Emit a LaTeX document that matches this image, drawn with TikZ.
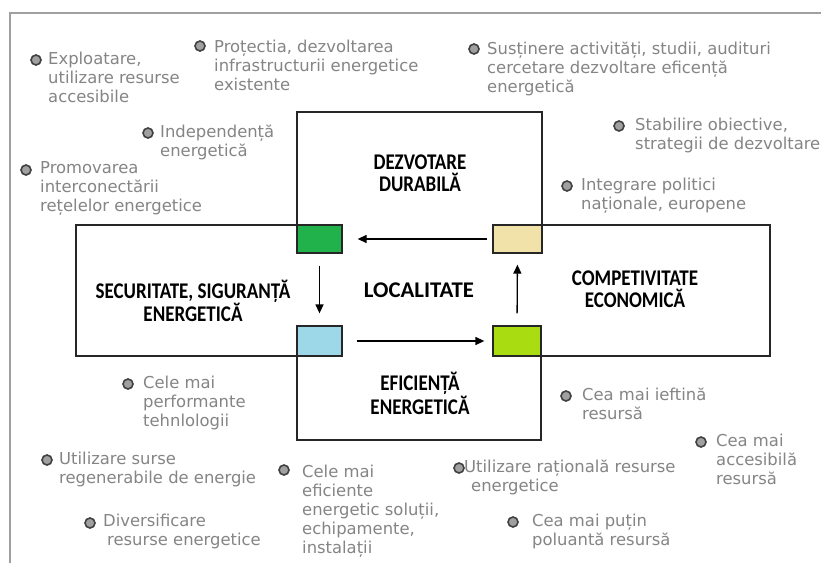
\documentclass[tikz,border=0pt]{standalone}
\usepackage{fontspec}
\setmainfont{DejaVu Sans}
\newfontfamily\labfont{Carlito}
\usetikzlibrary{arrows.meta}
\definecolor{gtxt}{HTML}{858585}
\definecolor{dotfill}{HTML}{A0A0A0}
\definecolor{dotline}{HTML}{404040}
\definecolor{framec}{HTML}{A0A0A0}
\definecolor{cgreen}{HTML}{22B24C}
\definecolor{ctan}{HTML}{F0E2A8}
\definecolor{cblue}{HTML}{9DD8E8}
\definecolor{clime}{HTML}{AADD11}
\newcommand\tallt[1]{\scalebox{1}[1.18]{#1}}
\begin{document}
\begin{tikzpicture}[x=1pt,y=-1pt,
  gtext/.style={anchor=north west, align=left, inner sep=0pt, text=gtxt, font=\fontsize{16.4}{19}\selectfont, execute at begin node=\strut},
  dot/.style={circle, draw=dotline, fill=dotfill, line width=1.6pt, minimum size=10pt, inner sep=0pt},
  lab/.style={align=center, inner sep=0pt, font=\labfont\bfseries\fontsize{19}{22}\selectfont},
  sq/.style={draw=black!85, line width=1.3pt, inner sep=0pt},
  arr/.style={-{Triangle[length=9pt,width=8pt]}, line width=1.3pt}]
\useasboundingbox (0,0) rectangle (821,563);
\fill[white] (0,0) rectangle (821,563);
% outer frame
\draw[framec, line width=1.5pt] (10,563) -- (10,13) -- (821,13);
% cross outline
\draw[black!85, line width=1.3pt] (297,112) -- (542,112) -- (542,225) -- (770,225) -- (770,356)
  -- (541,356) -- (541,440) -- (297,440) -- (297,356) -- (76,356) -- (76,225) -- (297,225) -- cycle;
% squares
\node[sq, fill=cgreen, minimum width=45pt, minimum height=28pt] (green) at (319.5,239) {};
\node[sq, fill=ctan, minimum width=49pt, minimum height=28pt] (tan) at (517.5,239) {};
\node[sq, fill=cblue, minimum width=45pt, minimum height=30pt] (blue) at (319.5,341) {};
\node[sq, fill=clime, minimum width=48pt, minimum height=30pt] (lime) at (517,341) {};
% arrows
\draw[arr, shorten <=5pt, shorten >=15pt] (tan.west) -- (green.east);
\draw[arr, shorten <=12pt, shorten >=12pt] (green.south) -- (blue.north);
\draw[arr, shorten <=14pt, shorten >=8pt] (blue.east) -- (lime.west);
\draw[arr, shorten <=12pt, shorten >=11pt] (lime.north) -- (tan.south);
% bold labels
\node[lab] (dd) at (420,173.5) {\tallt{DEZVOTARE}\\\tallt{DURABILĂ}};
\node[lab] (ss) at (193,301) {\tallt{SECURITATE, SIGURANȚĂ}\\\tallt{ENERGETICĂ}};
\node[lab] (loc) at (419,290) {\scalebox{1.2}[1.18]{LOCALITATE}};
\node[lab] (ce) at (635,289) {\tallt{COMPETIVITATE}\\\tallt{ECONOMICĂ}};
\node[lab] (ee) at (420,393.5) {\tallt{EFICIENȚĂ}\\\tallt{ENERGETICĂ}};
% bullets and gray texts
\node[dot] (b1) at (36,60) {};
\node[gtext] (t1) at (48,51.7) {Exploatare,\\utilizare resurse\\accesibile};
\node[dot] (b2) at (200,46) {};
\node[gtext] (t2) at (214,39.7) {Proțectia, dezvoltarea\\infrastructurii energetice\\existente};
\node[dot] (b3) at (148,133) {};
\node[gtext] (t3) at (160,124.7) {Independență\\energetică};
\node[dot] (b4) at (26,170) {};
\node[gtext] (t4) at (40,161.7) {Promovarea\\interconectării\\rețelelor energetice};
\node[dot] (b5) at (474,49) {};
\node[gtext] (t5) at (487,41.7) {Susținere activități, studii, audituri\\cercetare dezvoltare eficență\\energetică};
\node[dot] (b6) at (619,126) {};
\node[gtext] (t6) at (635,117.7) {Stabilire obiective,\\strategii de dezvoltare};
\node[dot] (b7) at (567,186) {};
\node[gtext] (t7) at (581,177.7) {Integrare politici\\naționale, europene};
\node[dot] (b8) at (128,384) {};
\node[gtext] (t8) at (143,375.7) {Cele mai\\performante\\tehnlologii};
\node[dot] (b9) at (47,460) {};
\node[gtext] (t9) at (59,451.7) {Utilizare surse\\regenerabile de energie};
\node[dot] (b10) at (90,523) {};
\node[gtext] (t10) at (103,513.7) {Diversificare\\\hspace*{4pt}resurse energetice};
\node[dot] (b11) at (284,470) {};
\node[gtext] (t11) at (302,464.7) {Cele mai\\eficiente\\energetic soluții,\\echipamente,\\instalații};
\node[dot] (b12) at (566,396) {};
\node[gtext] (t12) at (582,387.7) {Cea mai ieftină\\resursă};
\node[dot] (b13) at (701,442) {};
\node[gtext] (t13) at (716,433.7) {Cea mai\\accesibilă\\resursă};
\node[dot] (b14) at (459,468) {};
\node[gtext] (t14) at (463,459.7) {\hspace*{1pt}Utilizare rațională resurse\\\hspace*{8pt}energetice};
\node[dot] (b15) at (513,522) {};
\node[gtext] (t15) at (532,513.7) {Cea mai puțin\\poluantă resursă};
\end{tikzpicture}
\end{document}
